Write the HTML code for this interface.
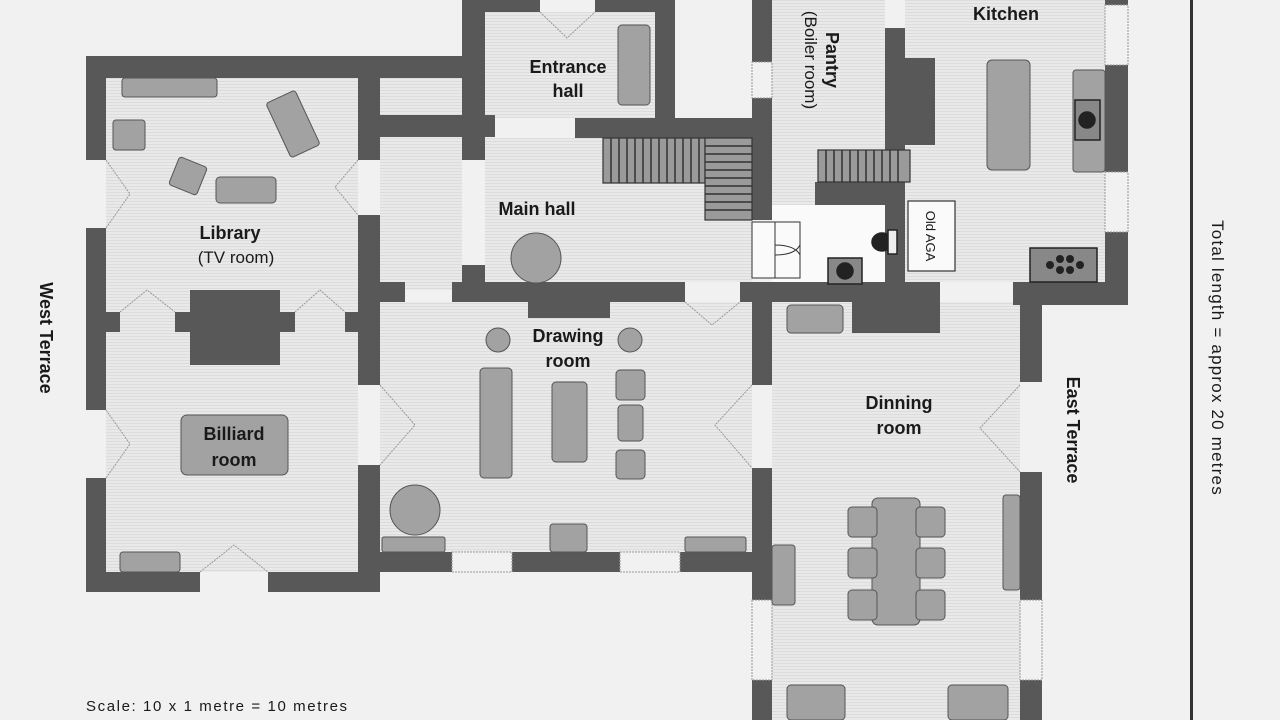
<!DOCTYPE html>
<html><head><meta charset="utf-8"><style>
html,body{margin:0;padding:0;background:#f1f1f1}
svg{display:block}
text{font-family:"Liberation Sans",sans-serif;fill:#1a1a1a}
.b{font-weight:bold;font-size:18px}
.n{font-size:17px}
</style></head><body>
<svg width="1280" height="720" viewBox="0 0 1280 720" xmlns="http://www.w3.org/2000/svg">
<defs>
<pattern id="hz" width="6" height="3" patternUnits="userSpaceOnUse"><rect width="6" height="3" fill="#e9e9e9"/><rect width="6" height="1" fill="#dcdcdc"/></pattern>
</defs>
<rect width="1280" height="720" fill="#f1f1f1"/>
<g fill="url(#hz)">
<rect x="106" y="78" width="252" height="494"/>
<rect x="380" y="78" width="82" height="212"/>
<rect x="485" y="12" width="170" height="106"/>
<rect x="485" y="138" width="267" height="144"/>
<rect x="772" y="0" width="113" height="205"/>
<rect x="905" y="0" width="200" height="282"/>
<rect x="380" y="302" width="372" height="250"/>
<rect x="772" y="302" width="248" height="418"/>
</g>
<rect x="772" y="205" width="113" height="77" fill="#fafafa"/>
<g fill="#585858">
<rect x="86" y="56" width="384" height="22"/>
<rect x="86" y="56" width="20" height="104"/>
<rect x="86" y="228" width="20" height="182"/>
<rect x="86" y="478" width="20" height="114"/>
<rect x="86" y="572" width="114" height="20"/>
<rect x="268" y="572" width="112" height="20"/>
<rect x="358" y="78" width="22" height="82"/>
<rect x="358" y="215" width="22" height="170"/>
<rect x="358" y="465" width="22" height="127"/>
<rect x="86" y="312" width="34" height="20"/>
<rect x="175" y="312" width="120" height="20"/>
<rect x="190" y="290" width="90" height="75"/>
<rect x="345" y="312" width="35" height="20"/>
<rect x="380" y="115" width="115" height="22"/>
<rect x="380" y="282" width="25" height="20"/>
<rect x="462" y="0" width="23" height="160"/>
<rect x="462" y="265" width="23" height="37"/>
<rect x="485" y="0" width="55" height="12"/>
<rect x="595" y="0" width="80" height="12"/>
<rect x="655" y="0" width="20" height="118"/>
<rect x="575" y="118" width="195" height="20"/>
<rect x="452" y="282" width="233" height="20"/>
<rect x="528" y="282" width="82" height="36"/>
<rect x="752" y="0" width="20" height="62"/>
<rect x="752" y="98" width="20" height="122"/>
<rect x="752" y="282" width="20" height="103"/>
<rect x="752" y="468" width="20" height="132"/>
<rect x="752" y="680" width="20" height="40"/>
<rect x="740" y="282" width="200" height="20"/>
<rect x="852" y="282" width="88" height="51"/>
<rect x="885" y="28" width="20" height="122"/>
<rect x="905" y="58" width="30" height="87"/>
<rect x="815" y="182" width="90" height="23"/>
<rect x="885" y="182" width="20" height="100"/>
<rect x="1105" y="0" width="23" height="5"/>
<rect x="1105" y="65" width="23" height="107"/>
<rect x="1105" y="232" width="23" height="73"/>
<rect x="1013" y="282" width="115" height="23"/>
<rect x="1020" y="282" width="22" height="100"/>
<rect x="1020" y="472" width="22" height="128"/>
<rect x="1020" y="680" width="22" height="40"/>
<rect x="380" y="552" width="72" height="20"/>
<rect x="512" y="552" width="108" height="20"/>
<rect x="680" y="552" width="92" height="20"/>
</g>
<g fill="none" stroke="#999" stroke-width="1" stroke-dasharray="2,1">
<rect x="752" y="62" width="20" height="36"/><rect x="1105" y="5" width="23" height="60"/><rect x="1105" y="172" width="23" height="60"/>
<rect x="752" y="600" width="20" height="80"/><rect x="1020" y="600" width="22" height="80"/>
<rect x="452" y="552" width="60" height="20"/><rect x="620" y="552" width="60" height="20"/>
<path d="M106 160 L130 194 L106 228 M358 160 L335 187 L358 215 M380 385 L415 425 L380 465 M752 385 L715 425 L752 468 M1020 385 L980 428 L1020 472 M106 410 L130 444 L106 478 M200 572 L234 545 L268 572 M120 312 L147 290 L175 312 M295 312 L320 290 L345 312 M540 12 L567 38 L595 12 M685 302 L712 325 L740 302"/>
</g>
<g stroke="#333" stroke-width="1.2" fill="#9a9a9a">
<rect x="603" y="138" width="102" height="45"/>
<rect x="705" y="138" width="47" height="82"/>
<rect x="818" y="150" width="92" height="32"/>
</g>
<g stroke="#333" stroke-width="1.5">
<path d="M611 138v45M619 138v45M627 138v45M635 138v45M643 138v45M651 138v45M659 138v45M667 138v45M675 138v45M683 138v45M691 138v45M699 138v45"/>
<path d="M705 146h47M705 154h47M705 162h47M705 170h47M705 178h47M705 186h47M705 194h47M705 202h47M705 210h47"/>
<path d="M826 150v32M834 150v32M842 150v32M850 150v32M858 150v32M866 150v32M874 150v32M882 150v32M890 150v32M898 150v32"/>
</g>
<g fill="#a2a2a2" stroke="#555" stroke-width="1">
<rect x="122" y="78" width="95" height="19" rx="3"/>
<rect x="113" y="120" width="32" height="30" rx="3"/>
<rect x="277" y="94" width="32" height="60" rx="3" transform="rotate(-25 293 124)"/>
<rect x="173" y="161" width="30" height="30" rx="3" transform="rotate(22 188 176)"/>
<rect x="216" y="177" width="60" height="26" rx="4"/>
<rect x="181" y="415" width="107" height="60" rx="6"/>
<rect x="120" y="552" width="60" height="20" rx="3"/>
<rect x="618" y="25" width="32" height="80" rx="4"/>
<circle cx="536" cy="258" r="25"/>
<circle cx="498" cy="340" r="12"/><circle cx="630" cy="340" r="12"/>
<rect x="480" y="368" width="32" height="110" rx="4"/>
<rect x="552" y="382" width="35" height="80" rx="4"/>
<rect x="616" y="370" width="29" height="30" rx="4"/>
<rect x="618" y="405" width="25" height="36" rx="4"/>
<rect x="616" y="450" width="29" height="29" rx="4"/>
<circle cx="415" cy="510" r="25"/>
<rect x="382" y="537" width="63" height="15" rx="2"/>
<rect x="550" y="524" width="37" height="28" rx="3"/>
<rect x="685" y="537" width="61" height="15" rx="2"/>
<rect x="987" y="60" width="43" height="110" rx="5"/>
<rect x="1073" y="70" width="32" height="102" rx="3"/>
<rect x="787" y="305" width="56" height="28" rx="4"/>
<rect x="872" y="498" width="48" height="127" rx="6"/>
<rect x="848" y="507" width="29" height="30" rx="4"/><rect x="848" y="548" width="29" height="30" rx="4"/><rect x="848" y="590" width="29" height="30" rx="4"/>
<rect x="916" y="507" width="29" height="30" rx="4"/><rect x="916" y="548" width="29" height="30" rx="4"/><rect x="916" y="590" width="29" height="30" rx="4"/>
<rect x="1003" y="495" width="17" height="95" rx="3"/>
<rect x="772" y="545" width="23" height="60" rx="3"/>
<rect x="787" y="685" width="58" height="35" rx="4"/>
<rect x="948" y="685" width="60" height="35" rx="4"/>
</g>
<g stroke="#222" stroke-width="1.5">
<rect x="1075" y="100" width="25" height="40" fill="#888"/><circle cx="1087" cy="120" r="8" fill="#222"/>
<rect x="1030" y="248" width="67" height="34" fill="#888"/>
<rect x="828" y="258" width="34" height="26" fill="#888"/><circle cx="845" cy="271" r="8" fill="#222"/>
<ellipse cx="882" cy="242" rx="10" ry="9" fill="#222"/>
<rect x="888" y="230" width="9" height="24" fill="#eee"/>
</g>
<g fill="#222"><circle cx="1050" cy="265" r="4"/><circle cx="1060" cy="259" r="4"/><circle cx="1070" cy="259" r="4"/><circle cx="1060" cy="270" r="4"/><circle cx="1070" cy="270" r="4"/><circle cx="1080" cy="265" r="4"/></g>
<rect x="908" y="201" width="47" height="70" fill="#fafafa" stroke="#333" stroke-width="1.2"/>
<rect x="752" y="222" width="48" height="56" fill="#fafafa" stroke="#333" stroke-width="1"/>
<path d="M775 222v56M775 245 q20 0 25 10 M775 255 q20 0 25 -10" stroke="#333" fill="none"/>
<rect x="1190" y="0" width="3" height="720" fill="#333"/>
<g class="b" text-anchor="middle">
<text x="568" y="73">Entrance</text><text x="568" y="97">hall</text>
<text x="537" y="215">Main hall</text>
<text x="1006" y="20">Kitchen</text>
<text x="568" y="342">Drawing</text><text x="568" y="367">room</text>
<text x="899" y="409">Dinning</text><text x="899" y="434">room</text>
<text x="234" y="440">Billiard</text><text x="234" y="466">room</text>
<text x="230" y="239">Library</text>
<text transform="translate(40 338) rotate(90)">West Terrace</text>
<text transform="translate(1067 430) rotate(90)">East Terrace</text>
<text transform="translate(826 60) rotate(90)">Pantry</text>
</g>
<g class="n" text-anchor="middle">
<text x="236" y="263">(TV room)</text>
<text transform="translate(805 60) rotate(90)">(Boiler room)</text>
<text transform="translate(1212 358) rotate(90)" font-size="17" letter-spacing="1.2">Total length = approx 20 metres</text>
<text transform="translate(926 236) rotate(90)" font-size="13">Old AGA</text>
</g>
<text x="86" y="711" font-size="15" letter-spacing="1.6">Scale: 10 x 1 metre = 10 metres</text>
</svg>
</body></html>
